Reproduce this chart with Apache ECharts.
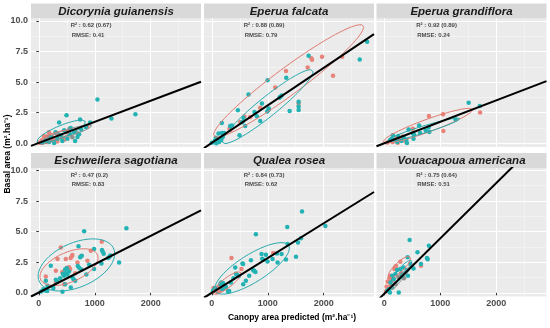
<!DOCTYPE html>
<html><head><meta charset="utf-8">
<script src="https://cdn.jsdelivr.net/npm/echarts@6/dist/echarts.min.js"></script>
<style>html,body{margin:0;padding:0;background:#fff}#c{width:550px;height:328px}</style>
</head><body><div id="c"></div>
<script>
// ---- data ----
const species = ["Dicorynia guianensis","Eperua falcata","Eperua grandiflora","Eschweilera sagotiana","Qualea rosea","Vouacapoua americana"];
const r2Labels = ["R² : 0.62 (0.67)","R² : 0.88 (0.89)","R² : 0.92 (0.89)","R² : 0.47 (0.2)","R² : 0.84 (0.73)","R² : 0.75 (0.64)"];
const rmseLabels = ["RMSE: 0.41","RMSE: 0.79","RMSE: 0.24","RMSE: 0.83","RMSE: 0.62","RMSE: 0.51"];
const xTicks = [0,1000,2000];
const yTicks = [0,2.5,5,7.5,10];
const xMinor = [500,1500,2500];
const yMinor = [1.25,3.75,6.25,8.75];

const dicTeal = [[1048,3.58],[495,2.30],[1298,2.02],[1727,2.38],[738,1.94],[363,1.70],[917,1.70],[649,0.19],[720,0.74],[839,1.34],[571,1.26],[452,1.07],[393,0.66],[214,0.52],[184,0.11],[125,0.25],[273,0.02],[691,0.52],[512,0.38],[334,0.38],[631,0.93],[760,1.1],[60,0.05],[300,0.9],[420,0.2],[560,0.75]];
const dicRed = [[862,1.34],[120,0.45],[60,0.25],[200,0.7],[260,0.35],[330,0.15],[20,0.05],[150,0.1],[230,0.55],[300,0.85],[400,0.6],[450,0.3],[90,0.6],[180,0.9]];
const dicGray = [[100,0.2],[250,0.45],[350,0.7],[500,0.95],[600,0.5],[700,0.8],[420,0.4],[300,0.2],[550,1.2],[200,0.35],[150,0.55],[650,1.05]];

const falTeal = [[2777,8.3],[2645,6.86],[1731,7.16],[1331,5.35],[997,5.16],[656,3.99],[1224,3.8],[1250,3.9],[1210,3.72],[1552,3.39],[1552,3.0],[1552,2.73],[1391,2.65],[896,3.25],[1009,2.7],[990,2.6],[1020,2.85],[763,2.57],[806,2.21],[866,1.83],[466,2.7],[566,2.07],[543,1.72],[597,1.42],[495,0.66],[179,1.66],[328,1.42],[360,1.45],[220,0.85],[0,0.05],[50,0.2],[80,0.0],[110,0.3],[130,0.1],[160,0.25],[190,0.5],[70,0.45],[120,0.8],[180,0.85],[210,0.75]];
const falRed = [[1326,5.9],[1134,4.56],[1714,6.2],[1792,6.83],[1780,6.95],[1971,7.07],[2330,7.07],[2168,5.52],[1552,3.25],[866,2.9],[584,2.2],[686,2.16],[507,1.75],[315,1.2],[90,0.25],[330,1.1]];

const graTeal = [[1508,3.31],[1707,3.06],[1273,1.94],[622,1.45],[792,1.29],[434,1.12],[510,0.82],[530,0.75],[639,0.85],[804,0.93],[740,1.05],[522,0.38],[153,0.66],[129,0.38],[182,0.3],[229,0.11],[305,0.19],[346,0.47],[393,0.3],[405,0.03],[250,0.6],[100,0.25]];
const graRed = [[1050,2.38],[798,2.24],[1713,2.51],[1056,1.01],[510,1.2],[53,0.06],[100,0.2],[150,0.1],[220,0.45],[280,0.3],[330,0.55],[380,0.15],[240,0.05]];

const escTeal = [[1566,5.27],[810,5.03],[1435,2.48],[1143,3.36],[1160,3.2],[1130,3.5],[1262,2.95],[1280,3.05],[1240,2.85],[988,3.58],[709,3.8],[768,3.03],[740,2.9],[697,2.2],[720,2.05],[760,1.9],[450,1.4],[480,1.6],[510,1.5],[540,1.75],[470,1.9],[430,1.55],[500,2.0],[304,1.07],[330,0.9],[214,2.21],[125,0.98],[155,0.57],[40,0.1],[80,0.3],[110,0.2],[150,0.15],[470,0.71],[571,0.44],[423,0.08],[650,0.98],[620,1.1],[988,1.94],[1120,2.4],[850,1.5],[600,1.3],[380,1.2],[260,0.4],[900,2.3]];
const escRed = [[393,3.71],[1125,4.18],[590,2.99],[600,3.1],[570,2.85],[482,2.76],[750,2.98],[304,1.80],[500,2.05],[540,2.1],[560,1.95],[125,1.34],[334,2.76],[929,3.44],[869,2.62],[691,2.48],[452,0.71],[304,0.85],[650,1.6],[420,1.7]];

const quaTeal = [[1613,6.64],[1349,5.38],[2030,5.47],[788,4.78],[1595,4.45],[1541,4.12],[1355,3.99],[1505,2.95],[1326,2.73],[1247,3.17],[1165,3.22],[1086,2.76],[996,2.57],[1176,2.48],[967,3.11],[889,3.17],[901,2.79],[920,2.7],[699,2.66],[548,2.40],[560,2.35],[758,1.80],[780,1.7],[740,1.85],[668,1.39],[609,0.98],[561,0.71],[453,1.48],[430,1.55],[480,1.35],[387,1.2],[418,2.07],[340,0.85],[310,0.14],[290,0.1],[167,0.85],[150,0.7],[200,0.8],[40,0.25],[60,0.4],[20,0.15],[190,0.3],[251,0.49]];
const quaRed = [[351,2.84],[1098,3.25],[530,1.94],[20,0.1],[60,0.3],[100,0.05],[150,0.2],[200,0.35],[251,0.39],[120,0.45],[80,0.15],[30,0.4]];

const vouTeal = [[452,4.32],[797,3.85],[593,3.31],[762,2.84],[775,2.75],[656,2.35],[522,1.99],[405,1.86],[422,1.39],[258,0.03],[287,1.94],[346,2.07],[375,1.66],[229,1.86],[199,1.53],[141,1.39],[317,1.39],[170,1.12],[111,0.85],[82,0.3],[141,0.44],[53,0.16],[100,0.03],[417,2.9],[463,2.35]];
const vouRed = [[656,2.21],[287,2.54],[194,2.1],[210,2.2],[180,1.95],[60,0.9],[90,1.2],[40,0.5],[110,0.6],[70,0.2],[30,0.1],[130,1.0],[100,1.4]];
const vouGray = [[150,1.0],[250,1.3],[300,1.6],[200,0.7],[350,1.2]];

// regression line endpoints [x0,y0,x1,y1]
const regLines = [[-140,-0.21,2900,5.03],[-140,-0.39,2900,8.92],[-140,-0.24,2900,5.08],[-140,-0.30,2900,6.73],[-140,-0.40,2900,8.24],[-100,-0.52,2300,10.32]];

// ellipses: [cx, cy, ux, uy, vx, vy] per group
const ellRed  = [[260,0.5,290,0.5,-30,0.28],[1373,5.1,1340,4.45,-60,1.15],[780,1.45,800,1.3,0,0.55],[540,2.1,480,1.2,-200,0.9],[270,0.8,250,0.85,-40,0.35],[270,2.1,195,0.8,-40,0.35]];
const ellTeal = [[400,0.95,430,0.85,-60,0.42],[1000,3.0,810,2.85,0,1.0],[700,1.12,650,0.9,0,0.3],[672,2.28,630,1.6,-270,1.4],[720,2.0,650,1.9,-150,0.9],[300,1.65,190,0.95,-30,0.35]];
const ellGray = [[520,0.85,420,0.6,-30,0.25],null,null,null,null,[320,1.3,200,1.1,20,0.3]];

const tealPts = [dicTeal,falTeal,graTeal,escTeal,quaTeal,vouTeal];
const redPts = [dicRed,falRed,graRed,escRed,quaRed,vouRed];
const grayPts = [dicGray,[],[],[],[],vouGray];

// ---- layout / style ----
const RED='#E8837A', TEAL='#22B2B4', GRAY='#8E8E8E';
const colLeft=[31,204,376.5], W=170, rowTop=[18.5,168], H=128.5, STRIP=15;
const FONT='Liberation Sans';

function ellipse(p){
  const out=[];
  for(let i=0;i<=96;i++){const t=i/96*2*Math.PI;
    out.push([p[0]+p[2]*Math.cos(t)+p[4]*Math.sin(t), p[1]+p[3]*Math.cos(t)+p[5]*Math.sin(t)]);}
  return out;
}

const grids=[],xAxes=[],yAxes=[],series=[],graphics=[];
for(let k=0;k<6;k++){
  const r=Math.floor(k/3), c=k%3;
  grids.push({left:colLeft[c],top:rowTop[r],width:W,height:H,containLabel:false,outerBoundsMode:'none',
    show:true,backgroundColor:'#EBEBEB',borderWidth:0});
  xAxes.push({gridIndex:k,type:'value',min:-140,max:2900,
    axisLine:{show:false},splitLine:{show:false},
    axisTick:{show:r===1,customValues:xTicks,length:2.5,lineStyle:{color:'#333',width:1}},
    axisLabel:{show:r===1,customValues:xTicks,margin:3,fontFamily:FONT,fontSize:9,fontWeight:'bold',color:'#4D4D4D',
      formatter:v=>String(v)}});
  yAxes.push({gridIndex:k,type:'value',min:-0.3,max:10.2,
    axisLine:{show:false},splitLine:{show:false},
    axisTick:{show:c===0,customValues:yTicks,length:2.5,lineStyle:{color:'#333',width:1}},
    axisLabel:{show:c===0,customValues:yTicks,margin:3,fontFamily:FONT,fontSize:9,fontWeight:'bold',color:'#4D4D4D',
      formatter:v=>v.toFixed(1)}});
  // gridlines via markLine (kept below everything)
  const ml=[];
  xMinor.forEach(v=>ml.push({xAxis:v,lineStyle:{color:'#F6F6F6',width:0.6,type:'solid'}}));
  yMinor.forEach(v=>ml.push({yAxis:v,lineStyle:{color:'#F6F6F6',width:0.6,type:'solid'}}));
  xTicks.forEach(v=>ml.push({xAxis:v,lineStyle:{color:'#FFFFFF',width:1.1,type:'solid'}}));
  yTicks.forEach(v=>ml.push({yAxis:v,lineStyle:{color:'#FFFFFF',width:1.1,type:'solid'}}));
  series.push({type:'scatter',xAxisIndex:k,yAxisIndex:k,data:[[0,0]],symbolSize:0,silent:true,z:0,
    markLine:{silent:true,z:0,zlevel:0,symbol:'none',label:{show:false},animation:false,lineStyle:{type:'solid'},data:ml}});
  // points
  [[grayPts[k],GRAY],[redPts[k],RED],[tealPts[k],TEAL]].forEach(([d,col])=>{
    if(d.length) series.push({type:'scatter',xAxisIndex:k,yAxisIndex:k,data:d,symbolSize:4.5,z:10,
      itemStyle:{color:col,opacity:1},silent:true});
  });
  // ellipses
  [[ellGray[k],'#909090'],[ellRed[k],'#E07B72'],[ellTeal[k],'#26AAAC']].forEach(([e,col])=>{
    if(e) series.push({type:'line',xAxisIndex:k,yAxisIndex:k,data:ellipse(e),showSymbol:false,symbol:'none',smooth:false,z:11,
      lineStyle:{color:col,width:1,type:'solid'},silent:true,clip:true});
  });
  // regression line
  const L=regLines[k];
  series.push({type:'line',xAxisIndex:k,yAxisIndex:k,data:[[L[0],L[1]],[L[2],L[3]]],showSymbol:false,symbol:'none',z:12,
    lineStyle:{color:'#000',width:2,type:'solid'},silent:true,clip:true});
  // annotations
  series.push({type:'scatter',xAxisIndex:k,yAxisIndex:k,symbolSize:0,z:13,silent:true,
    data:[[571,9.6,r2Labels[k]],[589,8.85,rmseLabels[k]]],
    label:{show:true,position:'right',distance:0,formatter:p=>p.data[2],fontFamily:FONT,fontSize:6,fontWeight:'bold',color:'#1A1A1A'}});
  // strip
  graphics.push({type:'rect',shape:{x:colLeft[c],y:rowTop[r]-STRIP,width:W,height:STRIP},style:{fill:'#D9D9D9'},silent:true});
  graphics.push({type:'text',x:colLeft[c]+W/2,y:rowTop[r]-STRIP/2+0.5,style:{text:species[k],fontFamily:FONT,fontSize:11.5,
    fontWeight:'bold',fontStyle:'italic',fill:'#1A1A1A',align:'center',verticalAlign:'middle'},silent:true});
}
graphics.push({type:'text',x:8,y:154,rotation:Math.PI/2,style:{text:'Basal area (m².ha⁻¹)',fontFamily:FONT,fontSize:8.5,fontWeight:'bold',fill:'#000',align:'center',verticalAlign:'middle'}});
graphics.push({type:'text',x:292,y:318,style:{text:'Canopy area predicted (m².ha⁻¹)',fontFamily:FONT,fontSize:8.5,fontWeight:'bold',fill:'#000',align:'center',verticalAlign:'middle'}});

const chart=echarts.init(document.getElementById('c'),null,{renderer:'canvas'});
chart.setOption({animation:false,grid:grids,xAxis:xAxes,yAxis:yAxes,series:series,graphic:graphics});
</script></body></html>
